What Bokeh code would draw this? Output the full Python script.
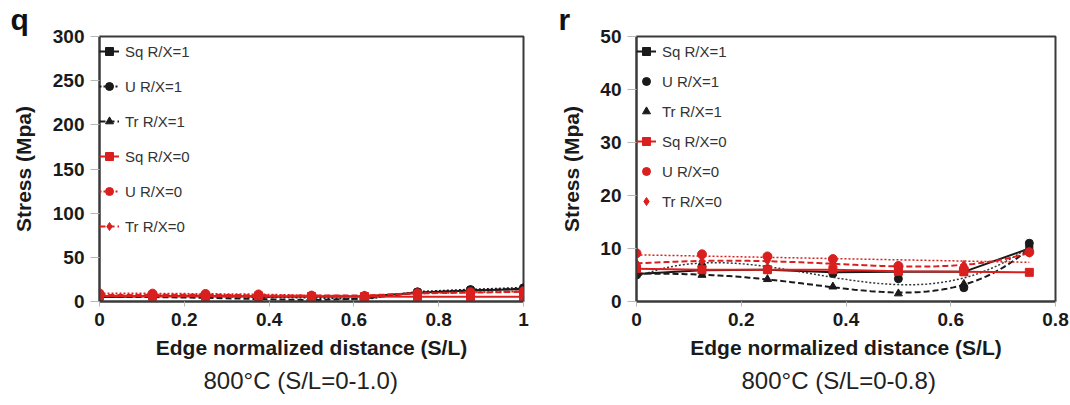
import numpy as np
from bokeh.plotting import figure
from bokeh.models import Range1d, FixedTicker, Legend, LegendItem, Title
from bokeh.layouts import row
from bokeh.embed import file_html
from bokeh.resources import INLINE

# ---------------- data ----------------
x_full = [0, 0.125, 0.25, 0.375, 0.5, 0.625, 0.75, 0.875, 1.0]
sq_rx1 = [5.2, 5.9, 6.0, 5.5, 5.6, 5.6, 10.0, 12.5, 14.0]
u_rx1 = [5.0, 6.6, 6.2, 5.3, 4.3, 2.6, 11.0, 13.5, 15.5]
tr_rx1 = [5.3, 5.0, 4.2, 2.8, 1.5, 3.3, 10.0, 12.5, 14.5]
sq_rx0 = [6.2, 6.0, 6.0, 6.0, 5.7, 5.6, 5.5, 5.5, 5.5]
u_rx0 = [9.1, 8.9, 8.5, 8.0, 6.7, 6.2, 9.3, 10.5, 11.5]
tr_rx0 = [7.2, 7.6, 7.7, 7.0, 6.7, 6.9, 9.2, 10.0, 11.0]

series_names = ["Sq R/X=1", "U R/X=1", "Tr R/X=1", "Sq R/X=0", "U R/X=0", "Tr R/X=0"]

q_xticks = [0, 0.2, 0.4, 0.6, 0.8, 1.0]
q_xlabels = ["0", "0.2", "0.4", "0.6", "0.8", "1"]
q_yticks = [0, 50, 100, 150, 200, 250, 300]
r_xticks = [0, 0.2, 0.4, 0.6, 0.8]
r_xlabels = ["0", "0.2", "0.4", "0.6", "0.8"]
r_yticks = [0, 10, 20, 30, 40, 50]
r_npts = 7  # right panel shows S/L = 0 - 0.75

# trendline polynomial degrees (right panel)
deg_u1, deg_tr1, deg_u0, deg_tr0 = 3, 4, 1, 4

BLACK = "#1a1a1a"
RED = "#d9201f"
FONT = "Liberation Sans"


def style(p, xticks, xlabels, yticks, ylabel_standoff):
    p.outline_line_color = "#3a3a3a"
    p.outline_line_width = 2
    p.xgrid.visible = False
    p.ygrid.visible = False
    for ax in (p.xaxis[0], p.yaxis[0]):
        ax.axis_line_color = "#3a3a3a"
        ax.axis_line_width = 2
        ax.major_tick_line_color = "#b8b8b8"
        ax.major_tick_line_width = 1
        ax.minor_tick_line_color = None
        ax.major_tick_in = 0
        ax.major_label_text_font = FONT
        ax.major_label_text_font_style = "bold"
        ax.major_label_text_font_size = "19px"
        ax.major_label_text_color = "#1a1a1a"
        ax.axis_label_text_font = FONT
        ax.axis_label_text_font_style = "bold"
        ax.axis_label_text_font_size = "21px"
        ax.axis_label_text_color = "#1a1a1a"
    xa = p.xaxis[0]
    xa.ticker = FixedTicker(ticks=xticks)
    xa.major_label_overrides = {t: l for t, l in zip(xticks, xlabels)}
    xa.major_tick_out = 5
    xa.major_label_standoff = 6
    xa.axis_label = "Edge normalized distance (S/L)"
    xa.axis_label_standoff = 7
    ya = p.yaxis[0]
    ya.ticker = FixedTicker(ticks=yticks)
    ya.major_tick_out = 9
    ya.major_label_standoff = 6
    ya.axis_label = "Stress (Mpa)"
    ya.axis_label_standoff = ylabel_standoff


def add_titles(p, letter, letter_offset, subtitle, sub_offset):
    p.add_layout(Title(text=letter, align="left", offset=letter_offset, standoff=1,
                       text_font=FONT, text_font_style="bold", text_font_size="30px",
                       text_color="#111111"), "above")
    p.add_layout(Title(text=subtitle, align="left", offset=sub_offset, standoff=11,
                       vertical_align="top",
                       text_font=FONT, text_font_style="normal", text_font_size="24px",
                       text_color="#222222"), "below")


def make_legend(items, padding, spacing):
    lg = Legend(items=items, location="top_left")
    lg.background_fill_alpha = 0
    lg.border_line_color = None
    lg.margin = 0
    lg.padding = padding
    lg.spacing = spacing
    lg.glyph_width = 20
    lg.glyph_height = 30
    lg.label_height = 30
    lg.label_standoff = 6
    lg.label_text_font = FONT
    lg.label_text_font_size = "15px"
    lg.label_text_color = "#333333"
    return lg


# ---------------- panel q ----------------
pq = figure(width=540, height=405, output_backend="svg", toolbar_location=None,
            x_range=Range1d(0, 1), y_range=Range1d(0, 300),
            min_border_left=99, min_border_right=17, min_border_top=35, min_border_bottom=104)
style(pq, q_xticks, q_xlabels, q_yticks, 15)

specs = [
    (sq_rx1, BLACK, "solid", "square", 7),
    (u_rx1, BLACK, "2 2", "circle", 8),
    (tr_rx1, BLACK, "6 3", "triangle", 8),
    (sq_rx0, RED, "solid", "square", 8),
    (u_rx0, RED, "2 2", "circle", 9),
    (tr_rx0, RED, "6 3", "diamond", 9),
]
q_items = []
for name, (ys, col, dash, mk, sz) in zip(series_names, specs):
    ln = pq.line(x_full, ys, line_color=col, line_dash=dash, line_width=2)
    sc = pq.scatter(x_full, ys, marker=mk, size=sz, fill_color=col, line_color=col)
    q_items.append(LegendItem(label=name, renderers=[ln, sc]))
pq.add_layout(make_legend(q_items, 2, 5))
add_titles(pq, "q", -89, "800°C (S/L=0-1.0)", 104)

# ---------------- panel r ----------------
pr = figure(width=530, height=405, output_backend="svg", toolbar_location=None,
            x_range=Range1d(0, 0.8), y_range=Range1d(0, 50),
            min_border_left=96, min_border_right=15, min_border_top=36, min_border_bottom=104)
style(pr, r_xticks, r_xlabels, r_yticks, 14)

xr = x_full[:r_npts]
xs_fit = np.linspace(xr[0], xr[-1], 120)


def trend(ys, deg):
    c = np.polyfit(xr, ys[:r_npts], deg)
    return np.polyval(c, xs_fit)


r_items = []
ln = pr.line(xr, sq_rx1[:r_npts], line_color=BLACK, line_width=2)
sc = pr.scatter(xr, sq_rx1[:r_npts], marker="square", size=7, fill_color=BLACK, line_color=BLACK)
r_items.append(LegendItem(label=series_names[0], renderers=[ln, sc]))
pr.line(xs_fit, trend(u_rx1, deg_u1), line_color="#333333", line_dash="2 2", line_width=1.5)
sc = pr.scatter(xr, u_rx1[:r_npts], marker="circle", size=8, fill_color=BLACK, line_color=BLACK)
r_items.append(LegendItem(label=series_names[1], renderers=[sc]))
pr.line(xs_fit, trend(tr_rx1, deg_tr1), line_color=BLACK, line_dash="6 3", line_width=2)
sc = pr.scatter(xr, tr_rx1[:r_npts], marker="triangle", size=8, fill_color=BLACK, line_color=BLACK)
r_items.append(LegendItem(label=series_names[2], renderers=[sc]))
ln = pr.line(xr, sq_rx0[:r_npts], line_color=RED, line_width=2)
sc = pr.scatter(xr, sq_rx0[:r_npts], marker="square", size=8, fill_color=RED, line_color=RED)
r_items.append(LegendItem(label=series_names[3], renderers=[ln, sc]))
pr.line(xs_fit, trend(u_rx0, deg_u0), line_color=RED, line_dash="2 2", line_width=1.5)
sc = pr.scatter(xr, u_rx0[:r_npts], marker="circle", size=9, fill_color=RED, line_color=RED)
r_items.append(LegendItem(label=series_names[4], renderers=[sc]))
pr.line(xs_fit, trend(tr_rx0, deg_tr0), line_color=RED, line_dash="6 3", line_width=2)
sc = pr.scatter(xr, tr_rx0[:r_npts], marker="diamond", size=9, fill_color=RED, line_color=RED)
r_items.append(LegendItem(label=series_names[5], renderers=[sc]))
pr.add_layout(make_legend(r_items, 1, 0))
add_titles(pr, "r", -78, "800°C (S/L=0-0.8)", 105)

layout = row(pq, pr, spacing=0)
open("out.html", "w").write(file_html(layout, INLINE))
